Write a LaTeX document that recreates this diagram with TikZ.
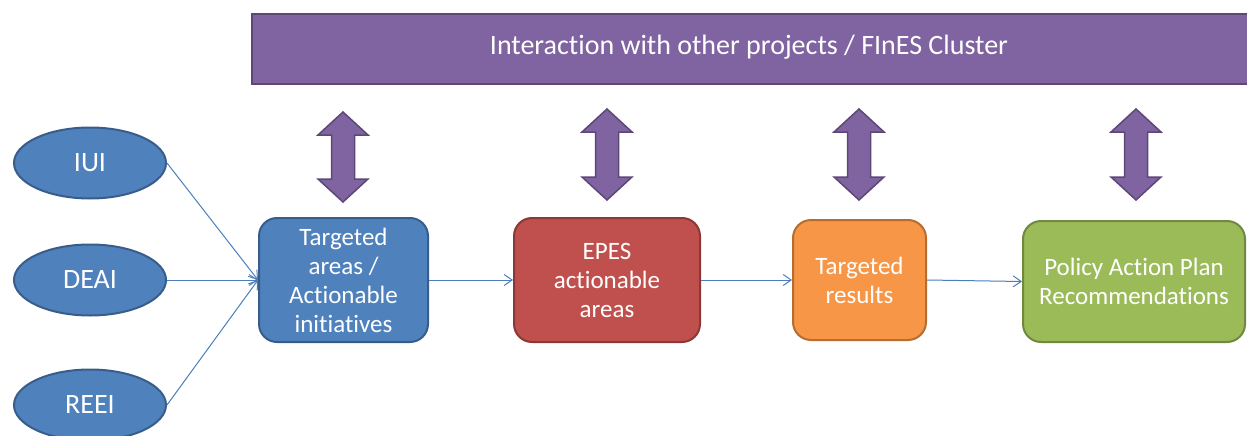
\documentclass[tikz,border=0pt]{standalone}
\usepackage{fontspec}
\setmainfont{Carlito}[Ligatures=NoCommon]
\usetikzlibrary{arrows.meta,shapes.geometric}
\definecolor{purp}{HTML}{8064A2}
\definecolor{purpd}{HTML}{5C4776}
\definecolor{blu}{HTML}{4F81BD}
\definecolor{blud}{HTML}{385D8A}
\definecolor{redf}{HTML}{C0504D}
\definecolor{redd}{HTML}{8C3836}
\definecolor{orf}{HTML}{F79646}
\definecolor{ord}{HTML}{B66D31}
\definecolor{grf}{HTML}{9BBB59}
\definecolor{grd}{HTML}{71893F}
\definecolor{linec}{HTML}{4A7EBB}
\tikzset{
  ell/.style={ellipse, draw=blud, fill=blu, line width=2pt, minimum width=152pt, minimum height=71pt, inner sep=0pt, text=white, font=\fontsize{28}{30}\selectfont},
  rbox/.style={rectangle, rounded corners=18pt, line width=2pt, inner sep=0pt, text=white, align=center, font=\fontsize{25}{29}\selectfont},
  conn/.style={draw=linec, line width=1pt, -{Straight Barb[length=8pt,width=11pt]}},
  dbl/.style={fill=purp, draw=purpd, line width=1.5pt},
}
\newcommand\dblarrow[3]{%
  \path[dbl] (#1,#2) -- ++(25,23) -- ++(-13.5,0) -- (#1+11.5,#3-23) -- ++(13.5,0) -- (#1,#3) -- ++(-25,-23) -- ++(13.5,0) -- (#1-11.5,#2+23) -- ++(-13.5,0) -- cycle;}
\begin{document}
\begin{tikzpicture}[x=1pt,y=-1pt]
\useasboundingbox (0,0) rectangle (1247,436);
% top bar
\node[rectangle, fill=purp, draw=purpd, line width=2pt, minimum width=1002pt, minimum height=70pt, anchor=north west, inner sep=0pt] (bar) at (251,13) {};
\node[text=white, font=\fontsize{28}{30}\selectfont] (bartext) at (749,47) {Interaction with other projects / FInES Cluster};
% double arrows
\dblarrow{343}{112}{202}
\dblarrow{607}{109}{200}
\dblarrow{859}{109}{200}
\dblarrow{1136}{109}{200}
% ellipses
\node[ell] (iui) at (90,163) {IUI};
\node[ell] (deai) at (90,280) {DEAI};
\node[ell] (reei) at (90,405) {REEI};
% boxes
\node[rbox, draw=blud, fill=blu, minimum width=169pt, minimum height=124pt] (b1) at (343.5,280) {Targeted\\areas /\\Actionable\\initiatives};
\node[rbox, draw=redd, fill=redf, minimum width=186pt, minimum height=124pt] (b2) at (607,280) {EPES\\actionable\\areas};
\node[rbox, draw=ord, fill=orf, minimum width=133pt, minimum height=120pt] (b3) at (859.5,280) {Targeted\\results};
\node[rbox, draw=grd, fill=grf, minimum width=222pt, minimum height=121pt] (b4) at (1134,281.5) {Policy Action Plan\\Recommendations};
% connectors
\draw[conn] (iui.east) -- (b1.west);
\draw[conn] (deai.east) -- (b1.west);
\draw[conn] (reei.east) -- (b1.west);
\draw[conn] (b1.east) -- (b2.west);
\draw[conn] (b2.east) -- (b3.west);
\draw[conn] (b3.east) -- (b4.west);
\end{tikzpicture}
\end{document}
